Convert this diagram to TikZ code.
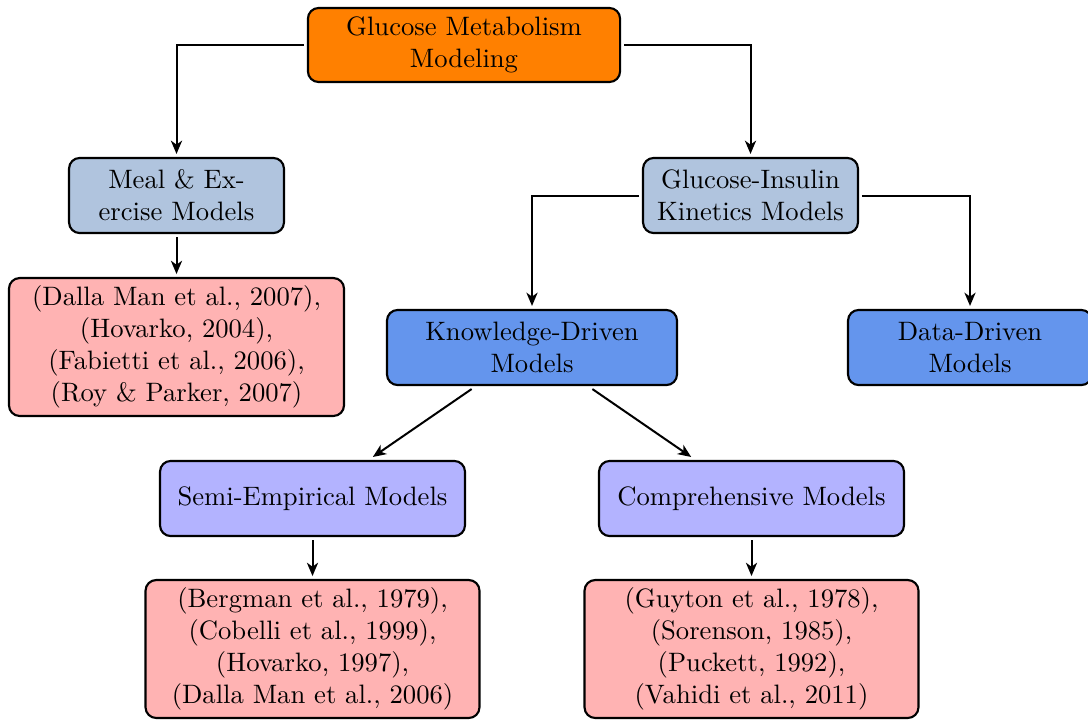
\documentclass[tikz,border=0pt]{standalone}
\usetikzlibrary{arrows.meta}
\definecolor{cTop}{RGB}{255,128,0}
\definecolor{cMid}{RGB}{176,196,222}
\definecolor{cKD}{RGB}{100,149,237}
\definecolor{cSub}{RGB}{179,179,255}
\definecolor{cCit}{RGB}{255,179,179}
\begin{document}
\begin{tikzpicture}[x=0.3755pt,y=-0.3755pt,
  box/.style={draw,line width=0.8pt,rounded corners=4pt,align=center,inner sep=2pt,outer sep=1.5pt,minimum height=28.2pt},
  topbox/.style={box,fill=cTop,minimum width=117.2pt,minimum height=27.8pt},
  midbox/.style={box,fill=cMid,minimum width=80.7pt},
  kdbox/.style={box,fill=cKD},
  subbox/.style={box,fill=cSub,minimum width=114.5pt},
  citbox/.style={box,fill=cCit,minimum height=51.8pt},
  arr/.style={-{Stealth[length=5pt,width=4.2pt,inset=1.5pt]},line width=0.75pt}]
\useasboundingbox (0,0) rectangle (1088,719);
\node[topbox] (top) at (464,45) {Glucose Metabolism\\Modeling};
\node[midbox] (meal) at (176.5,195.5) {Meal \& Ex-\\ercise Models};
\node[midbox] (gik) at (750.5,195.5) {Glucose-Insulin\\Kinetics Models};
\node[citbox,minimum width=125.8pt] (cit1) at (176.5,347) {(Dalla Man et al., 2007),\\(Hovarko, 2004),\\(Fabietti et al., 2006),\\(Roy \& Parker, 2007)};
\node[kdbox,minimum width=108.9pt] (kd) at (532,347.5) {Knowledge-Driven\\Models};
\node[kdbox,minimum width=91.6pt] (dd) at (970,347.5) {Data-Driven\\Models};
\node[subbox] (semi) at (312.5,498.5) {Semi-Empirical Models};
\node[subbox] (comp) at (751.5,498.5) {Comprehensive Models};
\node[citbox,minimum width=125.4pt] (cit2) at (312.5,649) {(Bergman et al., 1979),\\(Cobelli et al., 1999),\\(Hovarko, 1997),\\(Dalla Man et al., 2006)};
\node[citbox,minimum width=125.4pt] (cit3) at (751.5,649) {(Guyton et al., 1978),\\(Sorenson, 1985),\\(Puckett, 1992),\\(Vahidi et al., 2011)};
\draw[arr] (top.west) -| (meal.north);
\draw[arr] (top.east) -| (gik.north);
\draw[arr] (meal.south) -- (cit1.north);
\draw[arr] (gik.west) -| (kd.north);
\draw[arr] (gik.east) -| (dd.north);
\draw[arr] (kd) -- (semi);
\draw[arr] (kd) -- (comp);
\draw[arr] (semi.south) -- (cit2.north);
\draw[arr] (comp.south) -- (cit3.north);
\end{tikzpicture}
\end{document}
